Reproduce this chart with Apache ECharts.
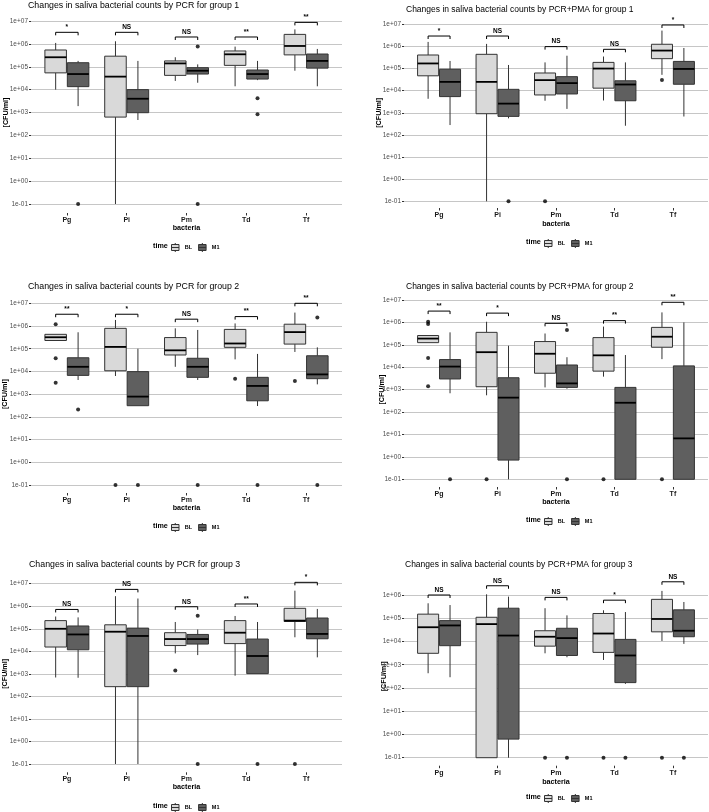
<!DOCTYPE html>
<html><head><meta charset="utf-8">
<script src="https://cdn.jsdelivr.net/npm/echarts@6/dist/echarts.min.js"></script>
<style>html,body{margin:0;padding:0;background:#fff}#c{width:709px;height:812px}</style>
</head><body><div id="c"></div>
<script>
// ---------------- DATA ----------------
const categories = ['Pg', 'Pi', 'Pm', 'Td', 'Tf'];
const groupNames = ['BL', 'M1'];
const yTickLabels = ['1e-01', '1e+00', '1e+01', '1e+02', '1e+03', '1e+04', '1e+05', '1e+06', '1e+07'];
const panelTitles = [
  'Changes in saliva bacterial counts by PCR for group 1',
  'Changes in saliva bacterial counts by PCR+PMA for group 1',
  'Changes in saliva bacterial counts by PCR for group 2',
  'Changes in saliva bacterial counts by PCR+PMA for group 2',
  'Changes in saliva bacterial counts by PCR for group 3',
  'Changes in saliva bacterial counts by PCR+PMA for group 3'
];
const xAxisTitle = 'bacteria';
const yAxisTitle = '[CFU/ml]';
const legendTitle = 'time';
const yMaxByPanel = [1e7, 1e7, 1e7, 1e7, 1e7, 1e6];

// box stats per category: [lower whisker, Q1, median, Q3, upper whisker]
// outliers: [category index, value]; sigY: bracket height; sigLabel: test result
const pcrG1_BL = [[1.0e4, 5.4e4, 2.6e5, 5.4e5, 1.1e6], [0.1, 630, 3.7e4, 2.9e5, 1.3e6], [2.4e4, 4.2e4, 1.4e5, 1.8e5, 2.6e5], [1.4e4, 1.15e5, 3.5e5, 4.9e5, 7.6e5], [6.7e4, 3.3e5, 8.1e5, 2.6e6, 4.3e6]];
const pcrG1_M1 = [[1.9e3, 1.35e4, 4.8e4, 1.5e5, 1.8e5], [470, 980, 4.0e3, 1.0e4, 1.8e5], [2.0e4, 4.8e4, 6.7e4, 9.1e4, 1.27e5], [2.6e4, 2.9e4, 4.8e4, 7.2e4, 1.8e5], [1.4e4, 8.7e4, 1.8e5, 3.6e5, 6.0e5]];
const pcrG1_outBL = [];
const pcrG1_outM1 = [[0, 0.1], [2, 7.6e5], [2, 0.1], [3, 4.2e3], [3, 830]];
const pcrG1_sigY = [3.2e6, 3.2e6, 2.0e6, 2.0e6, 8.7e6];
const pcrG1_sigLabel = ['*', 'NS', 'NS', '**', '**'];

const pmaG1_BL = [[4.3e3, 4.7e4, 1.7e5, 4.1e5, 1.6e6], [0.1, 910, 2.5e4, 4.4e5, 1.3e6], [3.5e3, 6.4e3, 3.0e4, 6.3e4, 1.9e5], [3.6e3, 1.3e4, 1.0e5, 1.9e5, 3.5e5], [5.2e4, 2.8e5, 6.5e5, 1.25e6, 5.2e6]];
const pmaG1_M1 = [[280, 5.4e3, 2.5e4, 9.3e4, 2.2e5], [560, 690, 2.6e3, 1.15e4, 1.45e5], [1.5e3, 7.1e3, 2.2e4, 4.3e4, 3.8e5], [260, 3.5e3, 1.9e4, 2.8e4, 1.9e5], [680, 1.95e4, 9.6e4, 2.1e5, 8.5e5]];
const pmaG1_outBL = [[2, 0.1], [4, 3.0e4]];
const pmaG1_outM1 = [[1, 0.1]];
const pmaG1_sigY = [2.95e6, 2.95e6, 9.8e5, 7.4e5, 9.3e6];
const pmaG1_sigLabel = ['*', 'NS', 'NS', 'NS', '*'];

const pcrG2_BL = [[2.3e5, 2.3e5, 3.2e5, 4.3e5, 4.3e5], [6.3e3, 1.07e4, 1.2e5, 7.9e5, 1.85e6], [1.6e4, 5.3e4, 8.5e4, 3.1e5, 7.9e5], [3.4e4, 1.15e5, 1.7e5, 7.1e5, 1.3e6], [7.2e4, 1.6e5, 5.4e5, 1.2e6, 3.9e6]];
const pcrG2_M1 = [[4.2e3, 6.7e3, 1.6e4, 4.0e4, 5.3e5], [310, 310, 780, 9.8e3, 1.0e5], [4.2e3, 5.5e3, 1.6e4, 3.8e4, 6.7e5], [300, 510, 2.3e3, 5.5e3, 5.9e4], [2.7e3, 4.8e3, 7.4e3, 4.9e4, 1.15e5]];
const pcrG2_outBL = [[0, 1.2e6], [0, 3.8e4], [0, 3.2e3], [1, 0.1], [3, 4.8e3], [4, 3.8e3]];
const pcrG2_outM1 = [[0, 210], [1, 0.1], [2, 0.1], [3, 0.1], [4, 2.4e6], [4, 0.1]];
const pcrG2_sigY = [3.3e6, 3.3e6, 2.0e6, 2.6e6, 1.0e7];
const pcrG2_sigLabel = ['**', '*', 'NS', '**', '**'];

const pmaG2_BL = [[1.25e5, 1.25e5, 1.9e5, 2.6e5, 2.6e5], [560, 1.35e3, 4.7e4, 3.6e5, 1.07e6], [1.26e3, 5.4e3, 4.0e4, 1.4e5, 3.2e5], [3.8e3, 6.7e3, 3.4e4, 2.1e5, 6.5e5], [2.3e4, 7.8e4, 2.3e5, 6.0e5, 2.8e6]];
const pmaG2_M1 = [[690, 3.0e3, 1.07e4, 2.2e4, 3.6e5], [0.1, 0.72, 440, 3.4e3, 9.1e4], [1.1e3, 1.26e3, 1.9e3, 1.26e4, 2.8e4], [0.1, 0.1, 260, 1.26e3, 3.5e4], [0.1, 0.1, 6.7, 1.15e4, 1.0e6]];
const pmaG2_outBL = [[0, 1.07e6], [0, 8.5e5], [0, 2.6e4], [0, 1.4e3], [1, 0.1], [3, 0.1], [4, 0.1]];
const pmaG2_outM1 = [[0, 0.1], [2, 4.6e5], [2, 0.1]];
const pmaG2_sigY = [3.2e6, 2.6e6, 9.1e5, 1.2e6, 7.9e6];
const pmaG2_sigLabel = ['**', '*', 'NS', '**', '**'];

const pcrG3_BL = [[690, 1.55e4, 1.0e5, 2.3e5, 3.5e5], [0.1, 270, 7.4e4, 1.5e5, 2.8e6], [8.1e3, 1.8e4, 3.5e4, 6.7e4, 2.0e5], [830, 2.2e4, 6.7e4, 2.3e5, 3.7e5], [4.2e4, 2.1e5, 2.3e5, 8.1e5, 4.9e6]];
const pcrG3_M1 = [[670, 1.17e4, 5.6e4, 1.33e5, 3.2e5], [0.1, 270, 4.8e4, 1.07e5, 2.2e6], [6.8e3, 2.1e4, 3.5e4, 5.6e4, 9.3e4], [1.02e3, 1.02e3, 6.2e3, 3.5e4, 2.0e5], [5.4e3, 3.6e4, 5.9e4, 3.0e5, 7.6e5]];
const pcrG3_outBL = [[2, 1.4e3], [4, 0.1]];
const pcrG3_outM1 = [[2, 3.8e5], [2, 0.1], [3, 0.1]];
const pcrG3_sigY = [7.2e5, 5.6e6, 9.5e5, 1.26e6, 1.15e7];
const pcrG3_sigLabel = ['NS', 'NS', 'NS', '**', '*'];

const pmaG3_BL = [[430, 3.1e3, 4.1e4, 1.5e5, 4.4e5], [0.1, 0.1, 5.6e4, 1.1e5, 1.07e6], [3.1e3, 6.3e3, 1.6e4, 2.9e4, 2.7e5], [1.6e3, 3.4e3, 2.2e4, 1.6e5, 2.2e5], [1.05e4, 2.6e4, 9.3e4, 6.5e5, 1.5e6]];
const pmaG3_M1 = [[290, 6.6e3, 4.9e4, 7.9e4, 3.7e5], [0.1, 0.63, 1.8e4, 2.7e5, 8.5e5], [2.1e3, 2.5e3, 1.4e4, 3.7e4, 1.33e5], [150, 170, 2.5e3, 1.23e4, 1.85e5], [7.9e3, 1.6e4, 2.9e4, 2.3e5, 5.0e5]];
const pmaG3_outBL = [[2, 0.1], [3, 0.1], [4, 0.1]];
const pmaG3_outM1 = [[2, 0.1], [3, 0.1], [4, 0.1]];
const pmaG3_sigY = [1.0e6, 2.5e6, 7.9e5, 6.0e5, 3.7e6];
const pmaG3_sigLabel = ['NS', 'NS', 'NS', '*', 'NS'];

// ---------------- LAYOUT / STYLE ----------------
const panelData = [
  [pcrG1_BL, pcrG1_M1, pcrG1_outBL, pcrG1_outM1, pcrG1_sigY, pcrG1_sigLabel],
  [pmaG1_BL, pmaG1_M1, pmaG1_outBL, pmaG1_outM1, pmaG1_sigY, pmaG1_sigLabel],
  [pcrG2_BL, pcrG2_M1, pcrG2_outBL, pcrG2_outM1, pcrG2_sigY, pcrG2_sigLabel],
  [pmaG2_BL, pmaG2_M1, pmaG2_outBL, pmaG2_outM1, pmaG2_sigY, pmaG2_sigLabel],
  [pcrG3_BL, pcrG3_M1, pcrG3_outBL, pcrG3_outM1, pcrG3_sigY, pcrG3_sigLabel],
  [pmaG3_BL, pmaG3_M1, pmaG3_outBL, pmaG3_outM1, pmaG3_sigY, pmaG3_sigLabel]
];
const layout = [
  {left: 31, top: 21, width: 311, height: 183, titleX: 28, titleTop: 1, titleSize: 8.8, pb: 213, bacY: 228, timeX: 153, legY: 247, yNameX: 5.5},
  {left: 404, top: 24.3, width: 304, height: 177, titleX: 406, titleTop: 5, titleSize: 8.5, pb: 208, bacY: 224, timeX: 526, legY: 243, yNameX: 379},
  {left: 31, top: 303.3, width: 311, height: 181.7, titleX: 28, titleTop: 282, titleSize: 8.8, pb: 493, bacY: 508.3, timeX: 153, legY: 527, yNameX: 5},
  {left: 404, top: 300, width: 304, height: 179.3, titleX: 406, titleTop: 282, titleSize: 8.5, pb: 487, bacY: 502.3, timeX: 526, legY: 521, yNameX: 382},
  {left: 31, top: 583.7, width: 311, height: 180.3, titleX: 29, titleTop: 560.5, titleSize: 8.8, pb: 772.3, bacY: 787.3, timeX: 153, legY: 807, yNameX: 5},
  {left: 404, top: 595, width: 304, height: 162.7, titleX: 405, titleTop: 560.5, titleSize: 8.5, pb: 765.7, bacY: 781.7, timeX: 526, legY: 798, yNameX: 384}
];
const FONT = '"Liberation Sans", Arial, Helvetica, sans-serif';
const fills = ['#d9d9d9', '#5f5f5f'];
const DODGE = 0.1875;
const BOX_W = 0.36;
const BOX_ICON = 'path://M5,0L5,2M0,2L10,2L10,10L0,10ZM0,6L10,6M5,10L5,12';

function boxRenderer(offset, fill) {
  return function (params, api) {
    const x = api.value(0) + offset;
    const cy = v => api.coord([x, v])[1];
    const cx = api.coord([x, api.value(3)])[0];
    const xl = api.coord([x - BOX_W / 2, api.value(3)])[0];
    const xr = api.coord([x + BOX_W / 2, api.value(3)])[0];
    const yLow = cy(api.value(1)), yQ1 = cy(api.value(2)), yMed = cy(api.value(3)), yQ3 = cy(api.value(4)), yHigh = cy(api.value(5));
    return {
      type: 'group',
      children: [
        {type: 'line', shape: {x1: cx, y1: yLow, x2: cx, y2: yQ1}, style: {stroke: '#333', lineWidth: 1}},
        {type: 'line', shape: {x1: cx, y1: yQ3, x2: cx, y2: yHigh}, style: {stroke: '#333', lineWidth: 1}},
        {type: 'rect', shape: {x: xl, y: yQ3, width: xr - xl, height: yQ1 - yQ3}, style: {fill: fill, stroke: '#333', lineWidth: 1}},
        {type: 'line', shape: {x1: xl, y1: yMed, x2: xr, y2: yMed}, style: {stroke: '#000', lineWidth: 1.8}}
      ]
    };
  };
}

function sigRenderer(labels) {
  return function (params, api) {
    const x = api.value(0);
    const pL = api.coord([x - DODGE, api.value(1)]);
    const pR = api.coord([x + DODGE, api.value(1)]);
    const y = pL[1];
    return {
      type: 'group',
      children: [
        {type: 'polyline', shape: {points: [[pL[0], y + 3], [pL[0], y], [pR[0], y], [pR[0], y + 3]]}, style: {stroke: '#000', lineWidth: 1, fill: null}},
        {type: 'text', style: {x: (pL[0] + pR[0]) / 2, y: y - 1.5, text: labels[params.dataIndex], align: 'center', verticalAlign: 'bottom', fontSize: 6.5, fontWeight: 'bold', fontFamily: FONT, fill: '#000'}}
      ]
    };
  };
}

const option = {
  animation: false,
  backgroundColor: '#fff',
  textStyle: {fontFamily: FONT},
  title: [], grid: [], xAxis: [], yAxis: [], legend: [], series: []
};

layout.forEach((L, p) => {
  const [bl, m1, outBL, outM1, sigY, sigLabel] = panelData[p];
  const band = L.width / 5.2;
  // titles
  option.title.push({text: panelTitles[p], left: L.titleX, top: L.titleTop, padding: 0,
    textStyle: {fontSize: L.titleSize, fontWeight: 'normal', color: '#000', fontFamily: FONT}});
  option.title.push({text: legendTitle, left: L.timeX, top: L.legY - 4.5, padding: 0,
    textStyle: {fontSize: 7.2, fontWeight: 'bold', color: '#000', fontFamily: FONT}});
  // main grid
  option.grid.push({left: L.left, top: L.top, width: L.width, height: L.height, outerBoundsMode: 'none', containLabel: false});
  // helper grid for category axis
  option.grid.push({left: L.left + 0.1 * band, top: L.pb - 1, width: 5 * band, height: 1, outerBoundsMode: 'none', containLabel: false});
  const gMain = 2 * p, gHelp = 2 * p + 1;
  option.xAxis.push({type: 'value', gridIndex: gMain, min: 0.4, max: 5.6, show: false});
  option.xAxis.push({type: 'category', gridIndex: gHelp, data: categories, boundaryGap: true,
    axisLine: {show: false}, axisTick: {show: true, alignWithLabel: true, length: 2.5, lineStyle: {color: '#333', width: 1}},
    axisLabel: {fontSize: 7, fontWeight: 'bold', color: '#1a1a1a', margin: 3.5, fontFamily: FONT},
    name: xAxisTitle, nameLocation: 'middle', nameGap: L.bacY - L.pb - 3.5, nameMoveOverlap: false,
    nameTextStyle: {fontSize: 7.2, fontWeight: 'bold', color: '#000', fontFamily: FONT}});
  option.yAxis.push({type: 'log', logBase: 10, gridIndex: gMain, min: 0.1, max: yMaxByPanel[p], splitNumber: 8,
    axisLine: {show: false},
    axisTick: {show: true, length: 2, lineStyle: {color: '#333', width: 1}},
    axisLabel: {fontSize: 6.5, color: '#4d4d4d', margin: 3, fontFamily: FONT,
      formatter: v => yTickLabels[Math.round(Math.log10(v)) + 1]},
    splitLine: {show: true, lineStyle: {color: '#c6c6c6', width: 1}},
    name: yAxisTitle, nameLocation: 'middle', nameGap: L.left - L.yNameX - 3.6, nameMoveOverlap: false,
    nameTextStyle: {fontSize: 7.2, fontWeight: 'bold', color: '#000', fontFamily: FONT}});
  option.yAxis.push({type: 'value', gridIndex: gHelp, show: false});
  // legend
  option.legend.push({left: L.timeX + 18, top: L.legY - 4.5, padding: 0, itemWidth: 9, itemHeight: 9, itemGap: 6,
    icon: BOX_ICON, selectedMode: false,
    data: groupNames.map((g, gi) => ({name: g, itemStyle: {color: fills[gi], borderColor: '#333', borderWidth: 1}})),
    textStyle: {fontSize: 5.5, fontWeight: 'bold', color: '#000', fontFamily: FONT}});
  // boxes
  [bl, m1].forEach((stats, gi) => {
    const offset = gi === 0 ? -DODGE : DODGE;
    option.series.push({
      type: 'custom', name: groupNames[gi], xAxisIndex: gMain, yAxisIndex: gMain,
      itemStyle: {color: fills[gi], borderColor: '#333', borderWidth: 1},
      encode: {x: 0, y: [1, 2, 3, 4, 5]},
      data: stats.map((s, ci) => [ci + 1].concat(s)),
      renderItem: boxRenderer(offset, fills[gi])
    });
    const outs = gi === 0 ? outBL : outM1;
    option.series.push({
      type: 'scatter', name: groupNames[gi] + ' outliers', xAxisIndex: gMain, yAxisIndex: gMain,
      symbol: 'circle', symbolSize: 4, itemStyle: {color: '#000'}, z: 3,
      data: outs.map(o => [o[0] + 1 + offset, o[1]])
    });
  });
  // significance brackets
  option.series.push({
    type: 'custom', name: 'significance', xAxisIndex: gMain, yAxisIndex: gMain,
    encode: {x: 0, y: 1},
    data: sigY.map((v, ci) => [ci + 1, v]),
    renderItem: sigRenderer(sigLabel)
  });
});

const chart = echarts.init(document.getElementById('c'), null, {renderer: 'canvas'});
chart.setOption(option);
</script>
</body></html>
